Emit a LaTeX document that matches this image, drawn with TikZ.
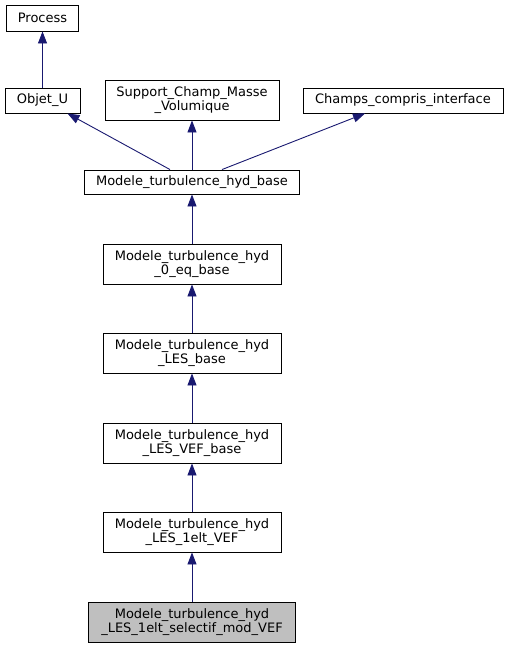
\documentclass[tikz,border=0pt]{standalone}
\usepackage{fontspec}
\setmainfont{DejaVu Sans}
\usepackage{tikz}
\usetikzlibrary{arrows.meta}
\definecolor{edgeblue}{HTML}{191970}
\definecolor{curgray}{HTML}{BFBFBF}

\tikzset{
  cls/.style={draw=black, fill=white, line width=0.9pt, inner sep=0pt,
    align=center, font=\fontsize{13}{14.5}\selectfont},
  inherit/.style={draw=edgeblue, line width=0.9pt,
    -{Triangle[length=12pt,width=9pt]}}
}

\begin{document}
\begin{tikzpicture}[x=1pt,y=-1pt]
    \useasboundingbox (0,0) rectangle (507,648);

    \node[cls, minimum width=72pt, minimum height=26pt] (process) at (42.5,18) {Process};
    \node[cls, minimum width=75pt, minimum height=25pt] (objetU) at (42.5,100.5) {Objet\_U};
    \node[cls, minimum width=174pt, minimum height=40pt] (support) at (192,100)
      {Support\_Champ\_Masse\\\_Volumique};
    \node[cls, minimum width=200pt, minimum height=25pt] (champs) at (403,100.5)
      {Champs\_compris\_interface};

    \node[cls, minimum width=215pt, minimum height=24pt] (hydbase) at (192,182)
      {Modele\_turbulence\_hyd\_base};
    \node[cls, minimum width=178pt, minimum height=40pt] (zeroeq) at (192,264)
      {Modele\_turbulence\_hyd\\\_0\_eq\_base};
    \node[cls, minimum width=178pt, minimum height=40pt] (lesbase) at (192,353)
      {Modele\_turbulence\_hyd\\\_LES\_base};
    \node[cls, minimum width=178pt, minimum height=40pt] (lesvefbase) at (192,443)
      {Modele\_turbulence\_hyd\\\_LES\_VEF\_base};
    \node[cls, minimum width=178pt, minimum height=40pt] (oneelt) at (192,532)
      {Modele\_turbulence\_hyd\\\_LES\_1elt\_VEF};
    \node[cls, fill=curgray, minimum width=207pt, minimum height=40pt] (selectif) at (192,622)
      {Modele\_turbulence\_hyd\\\_LES\_1elt\_selectif\_mod\_VEF};

    \draw[inherit] (objetU) -- (process);
    \draw[inherit] ([xshift=-22pt]hydbase.north) -- ([xshift=25pt]objetU.south);
    \draw[inherit] (hydbase) -- (support);
    \draw[inherit] ([xshift=30pt]hydbase.north) -- ([xshift=-38pt]champs.south);
    \draw[inherit] (zeroeq) -- (hydbase);
    \draw[inherit] (lesbase) -- (zeroeq);
    \draw[inherit] (lesvefbase) -- (lesbase);
    \draw[inherit] (oneelt) -- (lesvefbase);
    \draw[inherit] (selectif) -- (oneelt);
\end{tikzpicture}
\end{document}
